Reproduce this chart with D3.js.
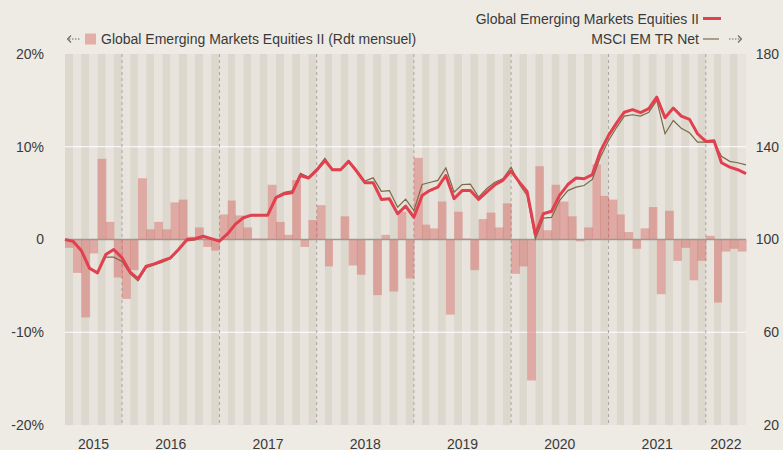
<!DOCTYPE html>
<html>
<head>
<meta charset="utf-8">
<script src="https://cdn.jsdelivr.net/npm/d3@7"></script>
<style>
  body { margin: 0; background: #eeebe4; }
  text { font-family: "Liberation Sans", Arial, sans-serif; fill: #3a3a3a; }
</style>
</head>
<body>
<div id="chart"></div>
<script>
// ---------------------------------------
// data (monthly, Jun 2015 -> May 2022)
const startMonth = new Date(2015, 5, 1);
const endMonth = new Date(2022, 5, 1);
const years = ["2015", "2016", "2017", "2018", "2019", "2020", "2021", "2022"];

// monthly return of the fund, %
const monthlyReturns = [
  -0.9, -3.6, -8.4, -1.5, 8.7, 1.9, -4.1,
  -6.4, -3.3, 6.6, 1.1, 1.9, 1.1, 4.0, 4.3, 0.3, 1.3, -0.8, -1.2,
  2.7, 4.2, 2.6, 1.3, 0.1, 0.1, 5.9, 1.9, 0.5, 6.4, -0.8, 2.1,
  3.7, -2.9, 0.0, 2.5, -2.8, -3.8, 0.0, -6.0, 0.5, -5.6, 3.0, -4.2,
  8.8, 1.6, 1.2, 4.1, -8.1, 3.0, 0.1, -3.3, 2.2, 2.9, 1.3, 3.9,
  -3.7, -2.9, -15.2, 7.9, 1.0, 5.9, 4.1, 2.5, -0.2, 1.3, 8.1, 4.7,
  4.3, 2.7, 0.8, -1.0, 1.2, 3.5, -5.9, 3.1, -2.3, -0.9, -4.4, -2.3,
  0.4, -6.8, -1.3, -1.0, -1.3
];

// base 100 at month ends
const fundIndex = [
  100, 99.2, 95.3, 87.6, 85.6, 93.5, 95.7, 92.1,
  85.9, 83.0, 88.5, 89.5, 90.9, 92.1, 95.8, 100.0, 100.3, 101.4, 100.4,
  99.3, 102.5, 106.5, 109.4, 110.5, 110.5, 110.5, 118.0, 119.7, 120.2, 127.6, 126.5,
  129.8, 134.1, 130.1, 130.1, 133.7, 129.3, 124.5, 124.5, 117.3, 117.6, 111.1, 114.4,
  109.6, 119.0, 121.1, 122.6, 127.6, 117.6, 121.1, 121.1, 117.3, 120.4, 123.6, 125.5,
  129.5, 124.7, 120.7, 102.2, 111.1, 112.2, 119.0, 123.7, 126.5, 126.2, 128.0, 138.0,
  144.9, 150.4, 154.9, 156.0, 154.7, 156.4, 161.4, 152.5, 156.7, 153.2, 151.8, 145.6,
  142.3, 142.6, 133.1, 131.2, 130.1, 128.4
];

const msciIndex = [
  100, 99.2, 95.0, 87.5, 85.8, 92.4, 92.4, 90.5,
  85.2, 82.2, 87.8, 89.0, 90.2, 91.7, 95.4, 99.4, 99.8, 101.0, 100.2,
  99.2, 102.3, 106.3, 109.2, 110.3, 110.4, 110.6, 118.5, 120.3, 121.0, 128.6, 126.9,
  130.5, 135.0, 130.3, 130.3, 134.1, 129.8, 125.2, 126.6, 120.8, 121.1, 113.9, 117.4,
  112.5, 123.7, 124.6, 125.5, 130.9, 120.4, 123.7, 123.9, 118.3, 121.9, 124.7, 126.2,
  131.2, 123.9, 119.0, 100.3, 109.2, 109.5, 116.8, 121.1, 122.6, 123.3, 125.9, 135.5,
  142.7, 148.5, 153.2, 153.8, 153.2, 154.9, 160.0, 145.6, 151.3, 148.0, 146.0, 142.0,
  142.0, 142.0, 135.9, 133.7, 133.1, 132.2
];

const leftTicks = [20, 10, 0, -10, -20];
const rightTicks = [180, 140, 100, 60, 20];

// ---------------------------------------
// svg params
const W = 783, H = 450;
const margin = {top: 54, right: 37, bottom: 25, left: 65};

const svg = d3.select("#chart").append("svg")
    .attr("width", W)
    .attr("height", H);

const months = d3.timeMonth.range(startMonth, endMonth);
const bounds = d3.timeMonth.range(startMonth, d3.timeMonth.offset(endMonth, 1));

const x = d3.scaleTime()
    .domain([startMonth, endMonth])
    .range([margin.left, W - margin.right]);
const yL = d3.scaleLinear().domain([-20, 20]).range([H - margin.bottom, margin.top]);
const yR = d3.scaleLinear().domain([20, 180]).range([H - margin.bottom, margin.top]);

// background stripes, one per month
svg.append("g").selectAll("rect")
    .data(months)
    .enter().append("rect")
    .attr("x", d => x(d))
    .attr("width", d => x(d3.timeMonth.offset(d, 1)) - x(d))
    .attr("y", yL(20))
    .attr("height", yL(-20) - yL(20))
    .attr("fill", (d, i) => i % 2 === 0 ? "#ddd8cd" : "#e8e4dd");

// white grid lines
svg.append("g").selectAll("line")
    .data([10, -10])
    .enter().append("line")
    .attr("x1", x.range()[0]).attr("x2", x.range()[1])
    .attr("y1", d => yL(d)).attr("y2", d => yL(d))
    .attr("stroke", "#ffffff")
    .attr("stroke-width", 1.2);

// year separators
const yearStarts = years.slice(1).map(y => new Date(+y, 0, 1));
svg.append("g").selectAll("line")
    .data(yearStarts)
    .enter().append("line")
    .attr("x1", d => x(d)).attr("x2", d => x(d))
    .attr("y1", yL(20)).attr("y2", yL(-20))
    .attr("stroke", "#a9a59f")
    .attr("stroke-width", 1)
    .attr("stroke-dasharray", "3,3");

// monthly return bars
svg.append("g").selectAll("rect")
    .data(monthlyReturns)
    .enter().append("rect")
    .attr("x", (d, i) => x(months[i]))
    .attr("width", (d, i) => x(bounds[i + 1]) - x(months[i]) + 0.6)
    .attr("y", d => yL(Math.max(0, d)))
    .attr("height", d => Math.abs(yL(d) - yL(0)))
    .attr("fill", "#d4625f")
    .attr("fill-opacity", 0.45);

// zero line
svg.append("line")
    .attr("x1", x.range()[0]).attr("x2", x.range()[1])
    .attr("y1", yL(0)).attr("y2", yL(0))
    .attr("stroke", "#9e9891")
    .attr("stroke-width", 1.5);

// index lines
const line = d3.line()
    .x((d, i) => x(bounds[i]))
    .y(d => yR(d));

svg.append("path")
    .datum(msciIndex)
    .attr("d", line)
    .attr("fill", "none")
    .attr("stroke", "#7b6a48")
    .attr("stroke-width", 1.2);

svg.append("path")
    .datum(fundIndex)
    .attr("d", line)
    .attr("fill", "none")
    .attr("stroke", "#e2404f")
    .attr("stroke-width", 3)
    .attr("stroke-linejoin", "round");

// ---------------------------------------
// axes labels
svg.append("g").selectAll("text")
    .data(leftTicks)
    .enter().append("text")
    .attr("x", 44)
    .attr("y", d => yL(d))
    .attr("dy", "0.35em")
    .attr("text-anchor", "end")
    .attr("font-size", 14)
    .text(d => d === 0 ? "0" : d + "%");

svg.append("g").selectAll("text")
    .data(rightTicks)
    .enter().append("text")
    .attr("x", 779)
    .attr("y", d => yR(d))
    .attr("dy", "0.35em")
    .attr("text-anchor", "end")
    .attr("font-size", 14)
    .text(d => d);

// year labels, centred on the visible part of each year
svg.append("g").selectAll("text")
    .data(years)
    .enter().append("text")
    .attr("x", d => {
      const a = d3.max([new Date(+d, 0, 1), startMonth]);
      const b = d3.min([new Date(+d + 1, 0, 1), endMonth]);
      return (x(a) + x(b)) / 2;
    })
    .attr("y", 449)
    .attr("text-anchor", "middle")
    .attr("font-size", 14)
    .text(d => d);

// ---------------------------------------
// legend
const arrowCol = "#6b6660";
const leg = svg.append("g");

// left legend: dotted arrow pointing to the left axis
leg.append("line")
    .attr("x1", 69).attr("x2", 80).attr("y1", 39).attr("y2", 39)
    .attr("stroke", arrowCol).attr("stroke-width", 1.2).attr("stroke-dasharray", "1.5,1.5");
leg.append("path")
    .attr("d", "M71,35.5 L67.5,39 L71,42.5")
    .attr("fill", "none").attr("stroke", arrowCol).attr("stroke-width", 1.1);
leg.append("rect")
    .attr("x", 85).attr("y", 33.5).attr("width", 11).attr("height", 11)
    .attr("fill", "#d4625f").attr("fill-opacity", 0.45);
leg.append("text")
    .attr("x", 101).attr("y", 39).attr("dy", "0.35em")
    .attr("font-size", 14)
    .text("Global Emerging Markets Equities II (Rdt mensuel)");

// right legend
leg.append("text")
    .attr("x", 699).attr("y", 19).attr("dy", "0.35em")
    .attr("text-anchor", "end")
    .attr("font-size", 14)
    .text("Global Emerging Markets Equities II");
leg.append("line")
    .attr("x1", 703).attr("x2", 721).attr("y1", 18.5).attr("y2", 18.5)
    .attr("stroke", "#e2404f").attr("stroke-width", 3);

leg.append("text")
    .attr("x", 699).attr("y", 39).attr("dy", "0.35em")
    .attr("text-anchor", "end")
    .attr("font-size", 14)
    .text("MSCI EM TR Net");
leg.append("line")
    .attr("x1", 703).attr("x2", 719).attr("y1", 39).attr("y2", 39)
    .attr("stroke", "#7b6a48").attr("stroke-width", 1.2);
leg.append("line")
    .attr("x1", 729).attr("x2", 740).attr("y1", 39).attr("y2", 39)
    .attr("stroke", arrowCol).attr("stroke-width", 1.2).attr("stroke-dasharray", "1.5,1.5");
leg.append("path")
    .attr("d", "M738,35.5 L741.5,39 L738,42.5")
    .attr("fill", "none").attr("stroke", arrowCol).attr("stroke-width", 1.1);
</script>
</body>
</html>
